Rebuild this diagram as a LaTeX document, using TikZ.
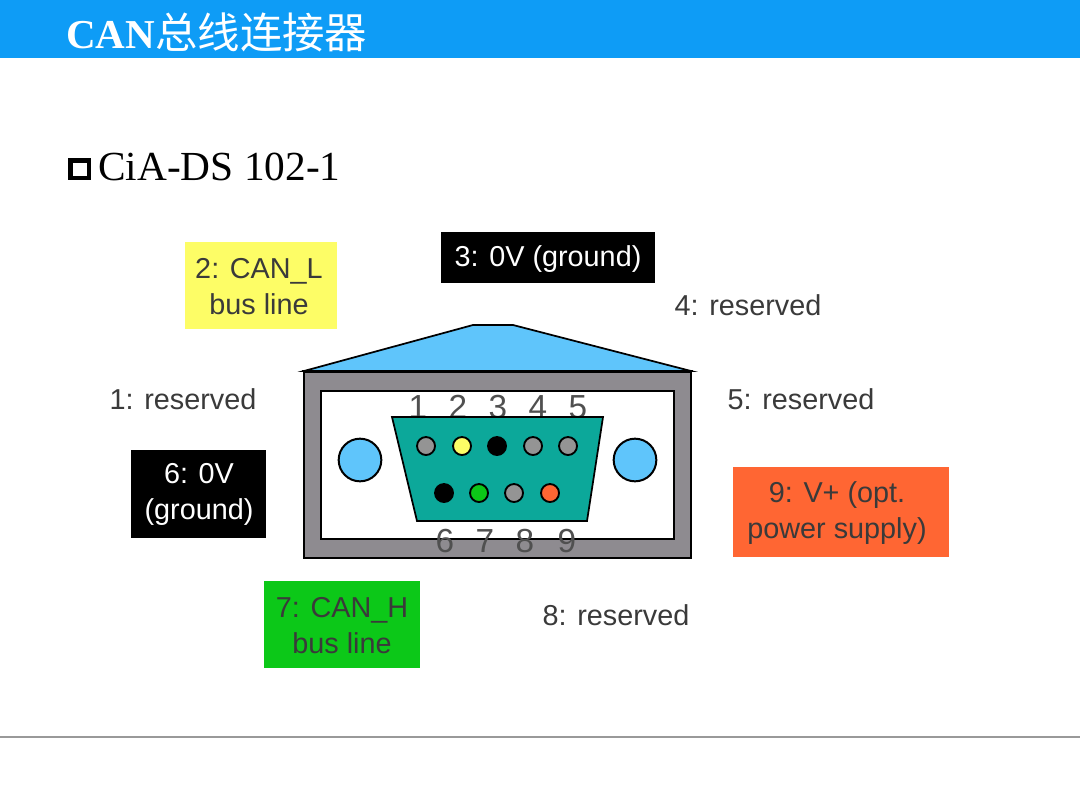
\documentclass[tikz,border=0pt]{standalone}
\usepackage{fontspec}
\setmainfont{Liberation Serif}
\newfontfamily\arialf{Liberation Sans}
\newfontfamily\cjkf{Noto Sans CJK SC}[BoldFont={Noto Sans CJK SC Bold}]
\definecolor{barblue}{HTML}{0E9CF6}
\definecolor{skyb}{HTML}{5FC5FB}
\definecolor{teal2}{HTML}{0CA89A}
\definecolor{shellgrey}{HTML}{8E8B90}
\definecolor{pingrey}{HTML}{949494}
\definecolor{labtxt}{HTML}{3A3A3A}
\definecolor{numtxt}{HTML}{505050}
\definecolor{yellowbox}{HTML}{FDFD66}
\definecolor{greenbox}{HTML}{0CC818}
\definecolor{orangebox}{HTML}{FF6633}
\tikzset{
  lab/.style={font=\arialf\fontsize{21.6}{27}\selectfont,text=labtxt,align=center,inner sep=0pt},
  wlab/.style={lab,text=white},
  numl/.style={font=\arialf\fontsize{25}{28}\selectfont,text=numtxt,inner sep=0pt,anchor=base},
  pin/.style={circle,draw=black,line width=1.4pt,minimum size=13.5pt,inner sep=0pt,fill=#1},
  screw/.style={circle,draw=black,line width=1.5pt,minimum size=32pt,inner sep=0pt,fill=skyb},
}
\begin{document}
\begin{tikzpicture}[x=0.75pt,y=-0.75pt]
\useasboundingbox (0,0) rectangle (1080,810);
\fill[white] (0,0) rectangle (1080,810);
\fill[barblue] (0,0) rectangle (1080,58);
\node[anchor=base west,inner sep=0pt,text=white,font=\bfseries\fontsize{30.8}{34}\selectfont] (title) at (66,48) {CAN{\cjkf\fontsize{31.8}{34}\selectfont\mdseries 总线连接器}};
\draw[line width=3.4pt,fill=white] (70.5,160.5) rectangle (89,178) coordinate (bulletc);
\node[anchor=base west,inner sep=0pt,font=\fontsize{31}{34}\selectfont] (sub) at (98,180) {CiA-DS 102-1};
\draw[gray!80,line width=0.9pt] (0,737) -- (1080,737);
% boxes
\fill[yellowbox] (185,242) rectangle (337,329);
\fill[black] (441,232) rectangle (655,283);
\fill[black] (131,450) rectangle (266,538);
\fill[orangebox] (733,467) rectangle (949,557);
\fill[greenbox] (264,581) rectangle (420,668);
% connector
\draw[black,line width=1.3pt,fill=skyb] (304,371) -- (473,325) -- (513,325) -- (691,371) -- cycle;
\draw[black,line width=1.5pt,fill=shellgrey] (304,372) rectangle (691,558);
\draw[black,line width=1.5pt,fill=white] (321,391) rectangle (674,539);
\draw[black,line width=1.9pt] (302,371) -- (693,371);
\node[numl] (n1) at (418,418) {1};
\node[numl] (n2) at (458,418) {2};
\node[numl] (n3) at (498,418) {3};
\node[numl] (n4) at (538,418) {4};
\node[numl] (n5) at (578,418) {5};
\draw[black,line width=1.3pt,fill=teal2] (392,417) -- (603,417) -- (587,521) -- (417,521) -- cycle;
\node[screw] (sl) at (360,460) {};
\node[screw] (sr) at (635,460) {};
\node[pin=pingrey] (p1) at (426,446) {};
\node[pin=yellowbox] (p2) at (462,446) {};
\node[pin=black] (p3) at (497,446) {};
\node[pin=pingrey] (p4) at (533,446) {};
\node[pin=pingrey] (p5) at (568,446) {};
\node[pin=black] (p6) at (444,493) {};
\node[pin=greenbox] (p7) at (479,493) {};
\node[pin=pingrey] (p8) at (514,493) {};
\node[pin=orangebox] (p9) at (550,493) {};
\node[numl] (n6) at (445,552) {6};
\node[numl] (n7) at (485,552) {7};
\node[numl] (n8) at (525,552) {8};
\node[numl] (n9) at (567,552) {9};
% labels
\node[lab] (l2) at (259,287) {2: CAN\_L\\bus line};
\node[wlab] (l3) at (548,259) {3: 0V (ground)};
\node[lab] (l4) at (748,305) {4: reserved};
\node[lab] (l1) at (183,399) {1: reserved};
\node[lab] (l5) at (801,399) {5: reserved};
\node[wlab] (l6) at (199,494) {6: 0V\\(ground)};
\node[lab] (l9) at (837,513) {9: V+ (opt.\\power supply)};
\node[lab] (l7) at (342,626) {7: CAN\_H\\bus line};
\node[lab] (l8) at (616,615) {8: reserved};
\end{tikzpicture}
\end{document}
